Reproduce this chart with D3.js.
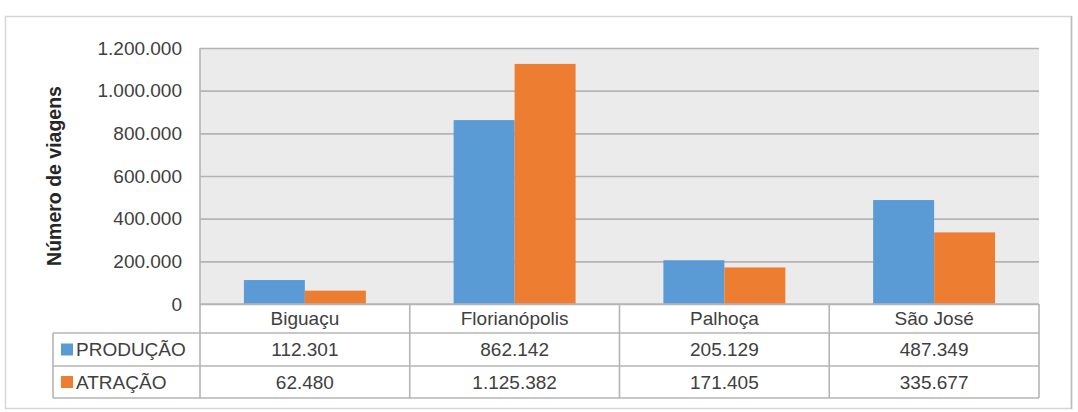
<!DOCTYPE html>
<html>
<head>
<meta charset="utf-8">
<script src="https://cdn.jsdelivr.net/npm/d3@7"></script>
<style>
  html, body { margin: 0; padding: 0; background: #fff; }
  svg { display: block; font-family: "Liberation Sans", Arial, sans-serif; }
</style>
</head>
<body>
<svg id="chart" width="1078" height="412"></svg>
<script>
const categories = ["Biguaçu", "Florianópolis", "Palhoça", "São José"];
const seriesNames = ["PRODUÇÃO", "ATRAÇÃO"];
const producao = [112301, 862142, 205129, 487349];
const atracao = [62480, 1125382, 171405, 335677];
const yTicks = [0, 200000, 400000, 600000, 800000, 1000000, 1200000];
const yLabel = "Número de viagens";
const colors = ["#5b9bd5", "#ed7d31"];

const series = [producao, atracao];
const loc = d3.formatLocale({decimal: ",", thousands: ".", grouping: [3], currency: ["R$", ""]});
const fmt = loc.format(",d");

const svg = d3.select("#chart");
const plot = {left: 200, right: 1039, top: 48, bottom: 304};
const rowH = [29, 33, 32];
const legendLeft = 53;
const fontSize = 19;
const textColor = "#404040";
const lineColor = "#b4b4b4";

// outer frame
svg.append("rect").attr("x", 5.5).attr("y", 16.5).attr("width", 1066).attr("height", 392)
  .attr("fill", "#fff").attr("stroke", "#d6d6d6").attr("stroke-width", 1.5);
svg.append("line").attr("x1", 1071.5).attr("x2", 1071.5).attr("y1", 16).attr("y2", 409)
  .attr("stroke", "#bdbdbd").attr("stroke-width", 1.5);

const x0 = d3.scaleBand().domain(categories).range([plot.left, plot.right]).padding(0);
const x1 = d3.scaleBand().domain(seriesNames).range([0, x0.bandwidth()]).paddingInner(0).paddingOuter(0.72);
const y = d3.scaleLinear().domain([0, 1200000]).range([plot.bottom, plot.top]);

// plot background
svg.append("rect").attr("x", plot.left).attr("y", plot.top)
  .attr("width", plot.right - plot.left).attr("height", plot.bottom - plot.top)
  .attr("fill", "#ebebeb");

// gridlines + tick labels via axis
const yAxis = d3.axisLeft(y).tickValues(yTicks).tickFormat(fmt)
  .tickSize(-(plot.right - plot.left)).tickPadding(18);
const gy = svg.append("g").attr("transform", `translate(${plot.left},0)`).call(yAxis);
gy.select(".domain").remove();
gy.selectAll(".tick line").attr("stroke", lineColor).attr("stroke-width", 1.6);
gy.selectAll(".tick text").attr("fill", textColor).attr("font-size", fontSize)
  .attr("font-family", "'Liberation Sans', Arial, sans-serif");

// bars
const groups = svg.append("g").selectAll("g").data(categories).join("g")
  .attr("transform", d => `translate(${x0(d)},0)`);
seriesNames.forEach((s, si) => {
  groups.append("rect")
    .attr("x", x1(s))
    .attr("width", x1.bandwidth())
    .attr("y", (d, i) => y(series[si][i]))
    .attr("height", (d, i) => y(0) - y(series[si][i]))
    .attr("fill", colors[si]);
});

// y label
svg.append("text")
  .attr("transform", `translate(61,${(plot.top + plot.bottom) / 2}) rotate(-90)`)
  .attr("text-anchor", "middle")
  .attr("font-size", 19.5).attr("font-weight", "bold").attr("fill", "#262626")
  .text(yLabel);

// data table
const t = svg.append("g");
const rowTop = [plot.bottom, plot.bottom + rowH[0], plot.bottom + rowH[0] + rowH[1]];
const tableBottom = rowTop[2] + rowH[2];
const hl = (x1_, x2_, yy) => t.append("line").attr("x1", x1_).attr("x2", x2_).attr("y1", yy).attr("y2", yy)
  .attr("stroke", lineColor).attr("stroke-width", 1.6);
const vl = (xx, y1_, y2_) => t.append("line").attr("x1", xx).attr("x2", xx).attr("y1", y1_).attr("y2", y2_)
  .attr("stroke", lineColor).attr("stroke-width", 1.6);

hl(plot.left, plot.right, rowTop[0]);
hl(legendLeft, plot.right, rowTop[1]);
hl(legendLeft, plot.right, rowTop[2]);
hl(legendLeft, plot.right, tableBottom);
vl(plot.left, plot.top, tableBottom);
vl(legendLeft, rowTop[1], tableBottom);
categories.forEach((c, i) => { if (i > 0) vl(x0(c), rowTop[0], tableBottom); });
vl(plot.right, rowTop[0], tableBottom);

// category header
t.selectAll(".cat").data(categories).join("text")
  .attr("x", d => x0(d) + x0.bandwidth() / 2)
  .attr("y", rowTop[0] + rowH[0] / 2)
  .attr("dy", "0.35em").attr("text-anchor", "middle")
  .attr("font-size", fontSize).attr("fill", textColor).text(d => d);

// series rows
seriesNames.forEach((s, si) => {
  const cy = rowTop[si + 1] + rowH[si + 1] / 2;
  t.append("rect").attr("x", 61).attr("y", cy - 6).attr("width", 12).attr("height", 12).attr("fill", colors[si]);
  t.append("text").attr("x", 76).attr("y", cy).attr("dy", "0.35em")
    .attr("font-size", fontSize).attr("fill", textColor).text(s);
  t.selectAll(".v" + si).data(series[si]).join("text")
    .attr("x", (d, i) => x0(categories[i]) + x0.bandwidth() / 2)
    .attr("y", cy).attr("dy", "0.35em").attr("text-anchor", "middle")
    .attr("font-size", fontSize).attr("fill", textColor).text(d => fmt(d));
});
</script>
</body>
</html>
